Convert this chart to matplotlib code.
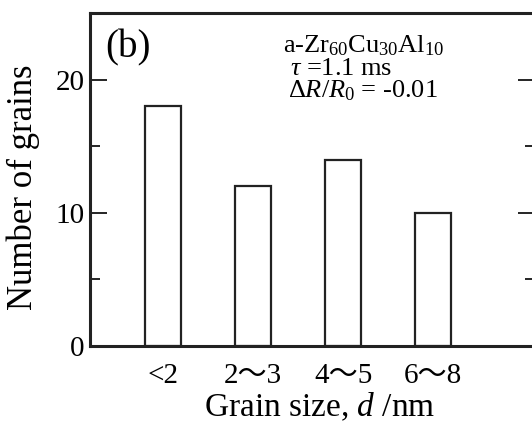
import matplotlib
matplotlib.use("Agg")
import matplotlib.pyplot as plt
from matplotlib.ticker import MultipleLocator

plt.rcParams['font.family'] = ['Liberation Serif', 'Noto Sans CJK JP', 'DejaVu Serif']
plt.rcParams['mathtext.fontset'] = 'custom'
plt.rcParams['mathtext.rm'] = 'Liberation Serif'
plt.rcParams['mathtext.it'] = 'Liberation Serif:italic'

# Data
categories = ["<2", "2〜3", "4〜5", "6〜8"]
counts = [18, 12, 14, 10]

fig = plt.figure(figsize=(5.32, 4.26), dpi=100)
ax = fig.add_axes([0.169, 0.188, 0.837, 0.781])

xpos = list(range(len(categories)))
ax.bar(xpos, counts, width=0.4, facecolor='white', edgecolor='#222222', linewidth=1.6)

ax.set_xlim(-0.81, 4.13)
ax.set_ylim(0, 25)
ax.set_xticks(xpos)
ax.set_xticklabels(categories, fontsize=21)
ax.tick_params(axis='x', length=0, pad=12)
ax.yaxis.set_major_locator(MultipleLocator(10))
ax.yaxis.set_minor_locator(MultipleLocator(5))
ax.set_yticks([0, 10, 20])
ax.tick_params(axis='y', which='major', direction='in', length=12, width=1.2,
               labelsize=21, right=True, pad=4)
ax.tick_params(axis='y', which='minor', direction='in', length=7, width=1.2, right=True)

for s in ax.spines.values():
    s.set_linewidth(2.2)
    s.set_color('#222222')

ax.set_ylabel("Number of grains", fontsize=25)
ax.set_xlabel("Grain size, $d$ /nm", fontsize=24)
ax.yaxis.set_label_coords(-0.112, 0.477)
ax.xaxis.set_label_coords(0.517, -0.135)

ax.text(0.034, 0.868, "(b)", transform=ax.transAxes, fontsize=28, va='baseline', ha='left')
ax.text(0.434, 0.883, r"a-Zr$_{60}$Cu$_{30}$Al$_{10}$", transform=ax.transAxes,
        fontsize=19, va='baseline', ha='left')
ax.text(0.449, 0.814, r"$\tau$ =1.1 ms", transform=ax.transAxes,
        fontsize=19, va='baseline', ha='left')
ax.text(0.445, 0.748, r"$\Delta R/R_0$ = -0.01", transform=ax.transAxes,
        fontsize=19, va='baseline', ha='left')

fig.savefig("out.png", dpi=100)
